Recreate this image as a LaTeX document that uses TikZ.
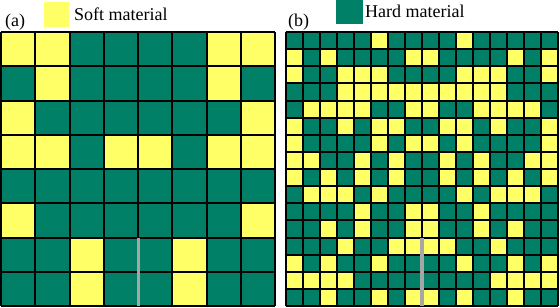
\documentclass[tikz,border=0pt]{standalone}
\usepackage{fontspec}
\setmainfont{Liberation Serif}
\definecolor{softc}{RGB}{255,255,102}
\definecolor{hardc}{RGB}{0,128,102}
\definecolor{crackc}{RGB}{166,166,166}
\colorlet{Y}{softc}
\colorlet{G}{hardc}
\begin{document}
\begin{tikzpicture}[x=1pt,y=-1pt,
  lbl/.style={font=\fontsize{18}{20}\selectfont, inner sep=0pt, anchor=base west},
  gridline/.style={line width=2pt, black},
  crackline/.style={line width=3pt, crackc}]
\useasboundingbox (0,0) rectangle (560,308);
% ---------- left grid (8x8) ----------
\def\Lx{1}\def\Ly{32}\def\Lw{34.25}\def\Lh{34.25}
\foreach \rowlist [count=\r] in {
  {Y,Y,G,G,G,G,Y,Y},
  {G,Y,G,G,G,G,Y,G},
  {Y,G,G,G,G,G,G,Y},
  {Y,Y,G,Y,Y,G,Y,Y},
  {G,G,G,G,G,G,G,G},
  {Y,G,G,G,G,G,G,Y},
  {G,G,Y,G,G,Y,G,G},
  {G,G,Y,G,G,Y,G,G}}{
  \foreach \v [count=\c] in \rowlist {
    \fill[\v] ({\Lx+(\c-1)*\Lw},{\Ly+(\r-1)*\Lh}) rectangle ({\Lx+\c*\Lw},{\Ly+\r*\Lh});
  }
}
\foreach \i in {0,...,8}{
  \draw[gridline] ({\Lx+\i*\Lw},\Ly) -- ({\Lx+\i*\Lw},{\Ly+8*\Lh});
  \draw[gridline] (\Lx,{\Ly+\i*\Lh}) -- ({\Lx+8*\Lw},{\Ly+\i*\Lh});
}
\coordinate (cA1) at ({\Lx+4*\Lw},{\Ly+6*\Lh});
\coordinate (cA2) at ({\Lx+4*\Lw},{\Ly+8*\Lh});
\draw[crackline] (cA1) -- (cA2);
% ---------- right grid (16x16) ----------
\def\Rx{285.5}\def\Ry{32}\def\Rw{17.03}\def\Rh{17.125}
\foreach \rowlist [count=\r] in {
  {G,G,G,G,G,Y,G,G,G,G,Y,G,G,G,G,G},
  {Y,G,Y,G,G,G,G,Y,Y,G,G,G,G,Y,G,Y},
  {Y,G,G,Y,Y,Y,G,G,G,G,Y,Y,Y,G,G,Y},
  {G,G,G,Y,Y,Y,Y,Y,Y,Y,Y,Y,Y,G,G,G},
  {G,Y,Y,Y,Y,G,G,Y,Y,G,G,Y,Y,Y,Y,G},
  {Y,G,G,Y,G,Y,Y,G,G,Y,Y,G,Y,G,G,Y},
  {Y,G,G,G,G,Y,G,Y,Y,G,Y,G,G,G,G,Y},
  {Y,Y,G,G,Y,G,Y,G,G,Y,G,Y,G,G,Y,Y},
  {Y,G,Y,G,Y,G,Y,G,G,Y,G,Y,G,Y,G,Y},
  {G,Y,Y,Y,G,Y,G,G,G,G,Y,G,Y,Y,Y,G},
  {G,G,G,G,Y,G,G,Y,Y,G,G,Y,G,G,G,G},
  {G,G,Y,G,Y,G,G,Y,Y,G,G,Y,G,Y,G,G},
  {G,G,G,Y,G,G,Y,Y,Y,Y,G,G,Y,G,G,G},
  {Y,G,Y,G,G,Y,G,G,G,G,Y,G,G,Y,G,Y},
  {Y,Y,Y,Y,G,G,G,G,G,G,G,G,Y,Y,Y,Y},
  {G,G,Y,G,G,Y,G,Y,Y,G,Y,G,G,Y,G,G}}{
  \foreach \v [count=\c] in \rowlist {
    \fill[\v] ({\Rx+(\c-1)*\Rw},{\Ry+(\r-1)*\Rh}) rectangle ({\Rx+\c*\Rw},{\Ry+\r*\Rh});
  }
}
\foreach \i in {0,...,16}{
  \draw[gridline] ({\Rx+\i*\Rw},\Ry) -- ({\Rx+\i*\Rw},{\Ry+16*\Rh});
  \draw[gridline] (\Rx,{\Ry+\i*\Rh}) -- ({\Rx+16*\Rw},{\Ry+\i*\Rh});
}
\coordinate (cB1) at ({\Rx+8*\Rw},{\Ry+12*\Rh});
\coordinate (cB2) at ({\Rx+8*\Rw},{\Ry+16*\Rh});
\draw[crackline, line width=4pt] (cB1) -- (cB2);
% ---------- labels and legend ----------
\node[lbl] (la) at (5,26) {(a)};
\node[lbl] (lb) at (288,26) {(b)};
\fill[softc] (44,2) rectangle (69,27);
\node[lbl] (soft) at (74,20) {Soft material};
\fill[hardc] (336,0) rectangle (362.5,24);
\node[lbl] (hard) at (365,17.5) {Hard material};
\end{tikzpicture}
\end{document}
